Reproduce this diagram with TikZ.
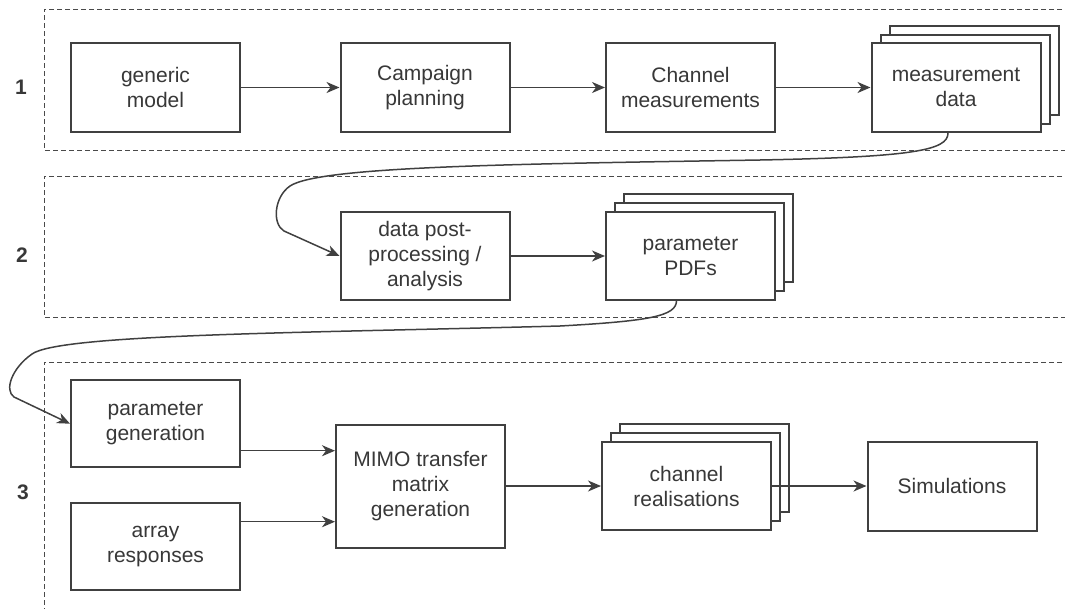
\documentclass[tikz,border=0pt]{standalone}
\usepackage{fontspec}
\setmainfont{Liberation Sans}
\usetikzlibrary{arrows.meta}
\definecolor{lc}{HTML}{404040}
\definecolor{tc}{HTML}{383838}
\definecolor{rc}{HTML}{4A4A4A}
\tikzset{
  box/.style={draw=lc, line width=2pt, fill=white, minimum width=169pt, minimum height=89pt, inner sep=0pt, align=center, text=tc, font=\fontsize{21}{25}\selectfont},
  sheet/.style={draw=lc, line width=2pt, fill=white, minimum width=169pt, minimum height=89pt, inner sep=0pt},
  conn/.style={draw=lc, line width=1.5pt, -{Stealth[length=13pt,width=11pt,inset=4pt]}},
  region/.style={draw=rc, line width=1pt, dash pattern=on 5pt off 3pt},
  numlabel/.style={font=\fontsize{21}{24}\selectfont\bfseries, text=tc}
}
\begin{document}
\begin{tikzpicture}[x=1pt,y=-1pt]
\useasboundingbox (0,0) rectangle (1065,608);
% regions
\draw[region] (1070,9) -- (44,9) -- (44,150) -- (1070,150);
\draw[region] (1070,176) -- (44,176) -- (44,317) -- (1070,317);
\draw[region] (1070,362) -- (44,362) -- (44,612);
\node[numlabel] (n1) at (21,87) {1};
\node[numlabel] (n2) at (22,255) {2};
\node[numlabel] (n3) at (23,492) {3};
% row 1
\node[box] (gm) at (155.5,87.5) {generic\\model};
\node[box] (cp) at (425,87.5) {Campaign\\planning};
\node[box] (cm) at (690.5,87.5) {Channel\\measurements};
\node[sheet] (md3) at (974,70.5) {};
\node[sheet] (md2) at (965,79) {};
\node[box] (md) at (956,87.5) {measurement\\data};
% row 2
\node[box, minimum height=88pt] (dp) at (425,256) {data post-\\processing /\\analysis};
\node[sheet, minimum height=88pt] (pd3) at (708.5,238) {};
\node[sheet, minimum height=88pt] (pd2) at (699.5,247) {};
\node[box, minimum height=88pt] (pd) at (690.5,256) {parameter\\PDFs};
% row 3
\node[box, minimum height=87pt] (pg) at (155.5,423.7) {parameter\\generation};
\node[box, minimum height=87pt] (ar) at (155.5,546.7) {array\\responses};
\node[box, minimum height=123pt] (mi) at (420.5,486) {MIMO transfer\\matrix\\generation};
\node[sheet, minimum height=88pt] (cr3) at (704.5,468) {};
\node[sheet, minimum height=88pt] (cr2) at (695.5,477) {};
\node[box, minimum height=88pt] (cr) at (686.5,486) {channel\\realisations};
\node[box] (si) at (952,486) {Simulations};
% connectors
\draw[conn] (gm) -- (cp);
\draw[conn] (cp) -- (cm);
\draw[conn] (cm) -- (md);
\draw[conn] (dp) -- (pd);
\draw[conn] ([yshift=-27pt]pg.east) -- ([yshift=-27pt]pg.east -| mi.west);
\draw[conn] ([yshift=25pt]ar.east) -- ([yshift=25pt]ar.east -| mi.west);
\draw[conn] (mi) -- (cr);
\draw[conn] (cr.east) -- (si.west);
\draw[conn] ([xshift=-8pt]md.south) .. controls (948,150) and (915,157) .. (760,160)
  .. controls (520,164) and (320,166) .. (290,186)
  .. controls (274,197) and (272,224) .. (284,231) -- (dp.west);
\draw[conn] ([xshift=-14pt]pd.south) .. controls (676,316) and (650,321) .. (560,326)
  .. controls (300,333) and (60,334) .. (32,354)
  .. controls (12,368) and (4,390) .. (14,397) -- (pg.west);
\end{tikzpicture}
\end{document}
